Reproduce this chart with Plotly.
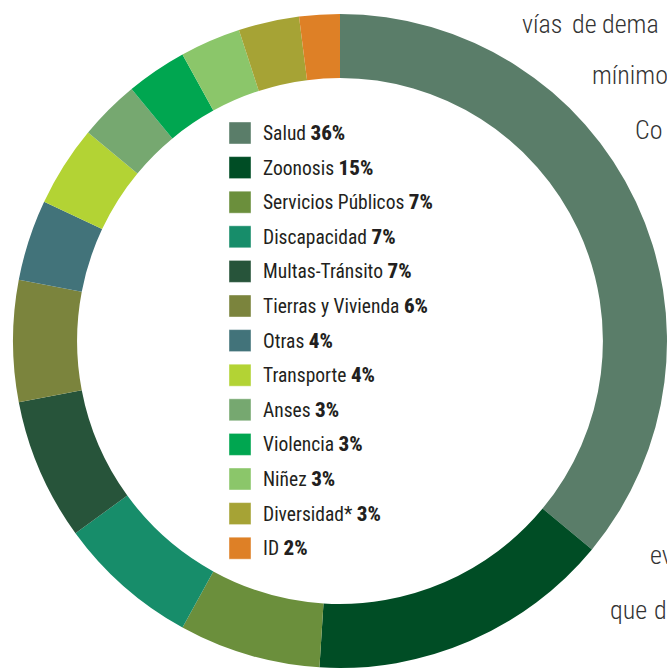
import plotly.graph_objects as go

categories = ["Salud", "Zoonosis", "Servicios Públicos", "Discapacidad", "Multas-Tránsito",
              "Tierras y Vivienda", "Otras", "Transporte", "Anses", "Violencia", "Niñez",
              "Diversidad*", "ID"]
values = [36, 15, 7, 7, 7, 6, 4, 4, 3, 3, 3, 3, 2]
colors = ["#5a7d69", "#004d25", "#6b8f3c", "#178d6a", "#27543a", "#7b843d", "#42737a",
          "#b3d334", "#76a870", "#00a650", "#8bc66a", "#a6a335", "#de8026"]

# fragments of the surrounding page text (cut off by the crop)
bg_words = ["vías", "de", "dema", "mínimo", "Co", "ev", "que", "d"]

W, H = 667, 669
FONT = "Roboto Condensed, DejaVu Sans Condensed, sans-serif"

fig = go.Figure()
fig.add_trace(go.Pie(
    labels=categories, values=values, sort=False, direction="clockwise", rotation=0,
    hole=0.804, marker=dict(colors=colors, line=dict(width=0)),
    textinfo="none", showlegend=False, hoverinfo="label+percent",
    domain=dict(x=[13 / W, 1], y=[1 / H, 1 - 14 / H]),
))

def px(x):
    return x / W

def py(y):
    return 1 - y / H

shapes = []
annotations = []
row0, step = 133, 34.6
for i, (c, v, col) in enumerate(zip(categories, values, colors)):
    yc = row0 + i * step
    shapes.append(dict(type="rect", xref="paper", yref="paper",
                       x0=px(229), x1=px(251), y0=py(yc - 11), y1=py(yc + 11),
                       fillcolor=col, line=dict(width=0.6, color="rgba(255,255,255,0.7)")))
    annotations.append(dict(xref="paper", yref="paper", x=px(261), y=py(yc),
                            xanchor="left", yanchor="middle", showarrow=False,
                            text=f"{c} <span style='font-size:21px;font-weight:800'>{v}%</span>",
                            font=dict(family=FONT, size=19.5, color="#231f20")))

bg_pos = [(520, 24), (570, 24), (600, 24), (590, 75), (633, 130), (648, 555),
          (608, 610), (652, 610)]
for t, (x, y) in zip(bg_words, bg_pos):
    annotations.append(dict(xref="paper", yref="paper", x=px(x), y=py(y),
                            xanchor="left", yanchor="middle", showarrow=False, text=t,
                            font=dict(family=FONT, size=26, color="#333333", weight=300)))

fig.update_layout(width=W, height=H, margin=dict(l=0, r=0, t=0, b=0),
                  paper_bgcolor="white", plot_bgcolor="white",
                  shapes=shapes, annotations=annotations)
fig.write_html("out.html", config={"displayModeBar": False},
               post_script="document.body.style.margin='0';document.body.style.overflow='hidden';")
